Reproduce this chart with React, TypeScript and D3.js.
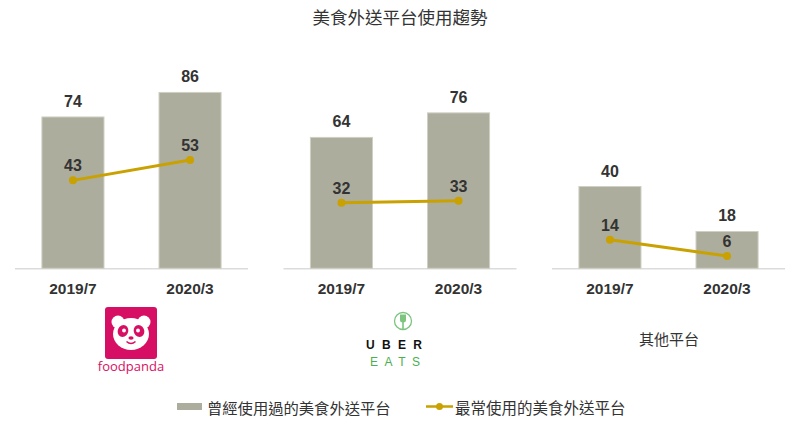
import React from "react";
import * as d3 from "d3";

const platforms = ["foodpanda", "ubereats", "other"];
const periods = ["2019/7", "2020/3"];
const everUsed = [
  [74, 86],
  [64, 76],
  [40, 18],
];
const mostUsed = [
  [43, 53],
  [32, 33],
  [14, 6],
];
const title = "美食外送平台使用趨勢";
const legendBar = "曾經使用過的美食外送平台";
const legendLine = "最常使用的美食外送平台";
const otherLabel = "其他平台";

const W = 800;
const H = 431;
const BAR = "#adad9d";
const BAR_EDGE = "#cfcfc3";
const LINE = "#c9a100";
const TXT = "#333333";
const CJK = "'Noto Sans CJK TC', 'Noto Sans', sans-serif";
const NUM = "'Liberation Sans', Arial, sans-serif";

export default function App() {
  const outer = d3.scaleBand<string>().domain(platforms).range([-2.5, 803]).padding(0);
  const inner = d3
    .scaleBand<string>()
    .domain(periods)
    .range([17.5, 250.5])
    .paddingInner(0.47)
    .paddingOuter(0.23);
  const y = d3.scaleLinear().domain([0, 100]).range([268.3, 63.8]);
  const line = d3
    .line<[number, number]>()
    .x((d) => d[0])
    .y((d) => d[1]);

  return (
    <svg
      width={W}
      height={H}
      style={{ position: "absolute", left: 0, top: 0, background: "#fff" }}
    >
      <text x={400} y={24} textAnchor="middle" fontFamily={CJK} fontSize={17.5} fill={TXT}>
        {title}
      </text>
      {platforms.map((p, i) => {
        const px = outer(p)!;
        const pts: [number, number][] = periods.map((c, j) => [
          px + inner(c)! + inner.bandwidth() / 2,
          y(mostUsed[i][j]),
        ]);
        return (
          <g key={p}>
            <line
              x1={px + 17.5}
              x2={px + 250.5}
              y1={y(0) + 0.5}
              y2={y(0) + 0.5}
              stroke="#dcdcdc"
              strokeWidth={1.5}
            />
            {periods.map((c, j) => {
              const bx = px + inner(c)!;
              const v = everUsed[i][j];
              return (
                <g key={c}>
                  <rect
                    x={bx}
                    y={y(v)}
                    width={inner.bandwidth()}
                    height={y(0) - y(v)}
                    fill={BAR}
                    stroke={BAR_EDGE}
                    strokeWidth={1}
                  />
                  <text
                    x={bx + inner.bandwidth() / 2}
                    y={y(v) - 10}
                    textAnchor="middle"
                    fontFamily={NUM}
                    fontWeight="bold"
                    fontSize={16}
                    fill={TXT}
                  >
                    {v}
                  </text>
                  <text
                    x={bx + inner.bandwidth() / 2}
                    y={293.5}
                    textAnchor="middle"
                    fontFamily={NUM}
                    fontWeight="bold"
                    fontSize={15.5}
                    fill={TXT}
                  >
                    {c}
                  </text>
                </g>
              );
            })}
            <path d={line(pts)!} fill="none" stroke={LINE} strokeWidth={3} />
            {pts.map((pt, j) => (
              <g key={j}>
                <circle cx={pt[0]} cy={pt[1]} r={4} fill={LINE} />
                <text
                  x={pt[0]}
                  y={pt[1] - 9}
                  textAnchor="middle"
                  fontFamily={NUM}
                  fontWeight="bold"
                  fontSize={16}
                  fill={TXT}
                >
                  {mostUsed[i][j]}
                </text>
              </g>
            ))}
          </g>
        );
      })}

      {/* foodpanda logo */}
      <g>
        <rect x={105} y={307} width={52} height={52} rx={3} fill="#d70f64" />
        <g transform="translate(131,333)">
          <circle cx={-13} cy={-11} r={6.5} fill="#fff" />
          <circle cx={13} cy={-11} r={6.5} fill="#fff" />
          <ellipse cx={0} cy={1} rx={18} ry={16} fill="#fff" />
          <ellipse cx={-8} cy={-2} rx={5.2} ry={6} fill="#d70f64" transform="rotate(25,-8,-2)" />
          <ellipse cx={8} cy={-2} rx={5.2} ry={6} fill="#d70f64" transform="rotate(-25,8,-2)" />
          <circle cx={-7} cy={-2.5} r={1.9} fill="#fff" />
          <circle cx={7} cy={-2.5} r={1.9} fill="#fff" />
          <ellipse cx={0} cy={5} rx={2.6} ry={1.7} fill="#d70f64" />
          <path d="M-4.5,8.5 Q0,12.5 4.5,8.5" fill="none" stroke="#d70f64" strokeWidth={1.5} />
        </g>
        <text x={131} y={371} textAnchor="middle" fontFamily="'Open Sans', sans-serif" fontSize={13} fill="#d70f64">
          foodpanda
        </text>
      </g>

      {/* Uber Eats logo */}
      <g>
        <circle cx={403} cy={321} r={8.5} fill="none" stroke="#7cc47f" strokeWidth={1.3} />
        <path d="M400,314.5 L400,320 Q400,322.5 403,322.5 Q406,322.5 406,320 L406,314.5 Z" fill="#7cc47f" />
        <rect x={402.2} y={322} width={1.6} height={7.5} fill="#7cc47f" />
        <text x={366} y={349} fontFamily={NUM} fontWeight="bold" fontSize={12} textLength={56} lengthAdjust="spacing" fill="#111">
          UBER
        </text>
        <text x={370} y={366} fontFamily={NUM} fontSize={12} textLength={50} lengthAdjust="spacing" fill="#4caf50">
          EATS
        </text>
      </g>

      <text x={669} y={345} textAnchor="middle" fontFamily={CJK} fontSize={15} fill={TXT}>
        {otherLabel}
      </text>

      {/* legend */}
      <rect x={177} y={403} width={25} height={7} fill={BAR} />
      <text x={207} y={414} fontFamily={CJK} fontSize={15.3} fill={TXT}>
        {legendBar}
      </text>
      <line x1={426} x2={453} y1={406.5} y2={406.5} stroke={LINE} strokeWidth={2.5} />
      <circle cx={439.5} cy={406.5} r={3.5} fill={LINE} />
      <text x={455} y={414} fontFamily={CJK} fontSize={15.5} fill={TXT}>
        {legendLine}
      </text>
    </svg>
  );
}
